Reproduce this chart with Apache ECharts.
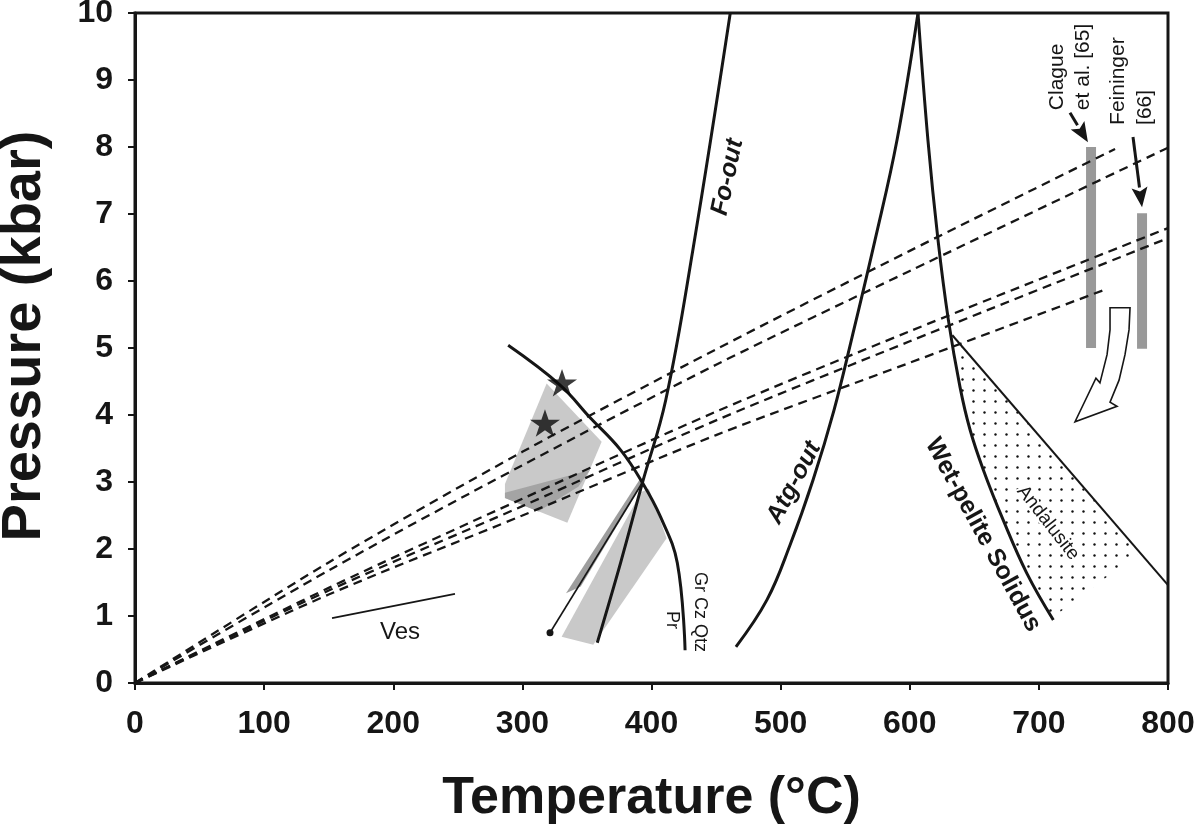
<!DOCTYPE html>
<html>
<head>
<meta charset="utf-8">
<script src="https://cdn.jsdelivr.net/npm/echarts@6/dist/echarts.min.js"></script>
<style>html,body{margin:0;padding:0;background:#fff}#chart{width:1200px;height:830px}</style>
</head>
<body>
<div id="chart"></div>
<script>
// ---------------- DATA (temperature °C, pressure kbar) ----------------
const xTickStep = 100, xMin = 0, xMax = 800;
const yTickStep = 1, yMin = 0, yMax = 10;

// dashed geotherms from origin
const geotherm1 = [[0,0],[150,1.8],[300,3.45],[450,4.98],[600,6.45],[759,7.97]];
const geotherm2 = [[0,0],[150,1.68],[300,3.25],[450,4.75],[600,6.15],[800,7.99]];
const geotherm3 = [[0,0],[150,1.42],[300,2.75],[450,4.05],[600,5.25],[800,6.79]];
const geotherm4 = [[0,0],[150,1.38],[300,2.64],[450,3.92],[600,5.1],[800,6.64]];
const geotherm5 = [[0,0],[150,1.32],[300,2.5],[450,3.7],[600,4.78],[751,5.87]];

// reaction curves
const foOut = [[358,0.6],[376,1.79],[393,2.99],[411,4.22],[432,6.46],[461,10]];
const atgOut = [[465.4,0.54],[489.4,1.24],[507.3,2.06],[525.1,3.03],[541.3,4.07],[555.3,5.16],[573.1,6.61],[590.1,8.1],[606.4,10]];
const wetSolidus = [[606.4,10],[614.1,8.1],[621.9,6.61],[629.9,5.42],[638.9,4.42],[646.7,3.78],[657.0,3.18],[672.4,2.43],[690.6,1.64],[711.2,0.94]];
const grCzQtz = [[289,5.04],[329,4.45],[352,3.97],[376,3.48],[393,2.99],[407,2.48],[420,1.79],[426,0.49]];
const andalusiteLine = [[633,5.19],[800,1.46]];
const andalusiteField = [[633,5.19],[777.5,1.94],[716.4,1.06],[711.2,0.94],[690.6,1.64],[672.4,2.43],[657.0,3.18],[646.7,3.78],[638.9,4.42],[629.9,5.42]];
const prLine = [[321.4,0.75],[393.2,3.0]];
const vesLine = [[152.6,0.97],[247.8,1.33]];

// grey P-T fields
const fieldUpper = [[318.8,4.47],[361.4,3.60],[334.8,2.39],[286.5,2.76],[286.5,2.97]];
const fieldUpperDark = [[286.5,2.84],[352.4,3.18],[343.3,2.93],[312.3,2.56],[286.5,2.76]];
const fieldLowerStrip = [[333.8,1.34],[345.2,1.44],[394.2,3.02],[390.6,3.03]];
const fieldLower = [[330.4,0.69],[354.9,0.57],[411.7,2.16],[398,2.9],[392,2.85]];

// stars (samples)
const stars = [[330.7,4.48],[317.5,3.88]];

// literature P ranges
const clagueRange = [[740.4,5.0],[740.4,8.0]];
const feiningerRange = [[779.9,4.99],[779.9,7.01]];
const arrowClague = [[724.1,8.51],[738.0,8.07]];
const arrowFeininger = [[772.9,8.15],[779.9,7.10]];

// open curved arrow outline
const openArrow = [[755.1,5.60],[755.1,5.27],[752.8,4.90],[747.3,4.48],[744.2,4.55],[728.0,3.90],[760.5,4.13],[755.1,4.19],[762.1,4.52],[766.7,4.90],[769.8,5.27],[770.6,5.60]];

// ---------------- CHART ----------------
const FONT = "Arial, 'Liberation Sans', Helvetica, sans-serif";
const INK = '#161616';

// annotation texts, anchors (data units) and styles
const annotations = [
  {text:'Fo-out', at:[459.0,7.55], rot:78, font:'italic bold 25px '+FONT},
  {text:'Atg-out', at:[510.4,2.99], rot:62, font:'italic bold 25px '+FONT},
  {text:'Wet-pelite Solidus', at:[656.7,2.21], rot:-61.4, font:'bold 25px '+FONT},
  {text:'Andalusite', at:[707.1,2.39], rot:-52, font:'19px '+FONT, halo:true},
  {text:'Gr Cz Qtz', at:[437.6,1.06], rot:-90, font:'18px '+FONT},
  {text:'Pr', at:[415.9,0.94], rot:-90, font:'18px '+FONT},
  {text:'Ves', at:[205.2,0.76], rot:0, font:'24px '+FONT},
  {text:'Clague', at:[714.0,8.55], rot:90, font:'21px '+FONT, align:'left'},
  {text:'et al. [65]', at:[734.2,8.55], rot:90, font:'21px '+FONT, align:'left'},
  {text:'Feininger', at:[761.3,8.33], rot:90, font:'21px '+FONT, align:'left'},
  {text:'[66]', at:[782.2,8.33], rot:90, font:'21px '+FONT, align:'left'}
];

function dotPattern(){
  const c = document.createElement('canvas');
  c.width = 11; c.height = 11;
  const g = c.getContext('2d');
  g.fillStyle = '#111';
  g.beginPath(); g.arc(5.5,5.5,1.2,0,Math.PI*2); g.fill();
  return c;
}

function polygonSeries(pts, style, z){
  return {
    type:'custom', coordinateSystem:'cartesian2d', data: pts, encode:{x:0,y:1}, z: z, silent:true, clip:false,
    renderItem: function(params, api){
      if (params.dataIndex !== 0) return;
      return {type:'polygon', shape:{points: pts.map(p => api.coord(p))}, style: style};
    }
  };
}

function lineSeries(pts, width, color, dash, z, smooth){
  return {
    type:'line', data: pts, showSymbol:false, symbol:'none', silent:true, z: z,
    smooth: smooth || 0, animation:false,
    lineStyle:{width: width, color: color, type: dash || 'solid', cap:'butt'}
  };
}

function arrowSeries(seg){
  return {
    type:'custom', coordinateSystem:'cartesian2d', data: seg, encode:{x:0,y:1}, z: 6, silent:true, clip:false,
    renderItem: function(params, api){
      if (params.dataIndex !== 0) return;
      const a = api.coord(seg[0]), b = api.coord(seg[1]);
      const dx = b[0]-a[0], dy = b[1]-a[1], L = Math.hypot(dx,dy);
      const ux = dx/L, uy = dy/L, hl = 20, hw = 8;
      const bx = b[0]-ux*hl, by = b[1]-uy*hl;
      return {type:'group', children:[
        {type:'line', shape:{x1:a[0],y1:a[1],x2:bx,y2:by}, style:{stroke:INK, lineWidth:3}},
        {type:'polygon', shape:{points:[[b[0],b[1]],[bx-uy*hw,by+ux*hw],[bx+ux*4,by+uy*4],[bx+uy*hw,by-ux*hw]]}, style:{fill:INK}}
      ]};
    }
  };
}

const chart = echarts.init(document.getElementById('chart'), null, {renderer:'canvas'});

const series = [
  polygonSeries(fieldUpper, {fill:'#c9c9c9'}, 1),
  polygonSeries(fieldUpperDark, {fill:'#a4a4a4'}, 1),
  polygonSeries(fieldLower, {fill:'#c9c9c9'}, 1),
  polygonSeries(fieldLowerStrip, {fill:'#9d9d9d'}, 1),
  polygonSeries(andalusiteField, {fill:{image: dotPattern(), repeat:'repeat'}}, 1),
  lineSeries(geotherm1, 2.3, INK, [9,6], 3, 0.3),
  lineSeries(geotherm2, 2.3, INK, [9,6], 3, 0.3),
  lineSeries(geotherm3, 2.3, INK, [9,6], 3, 0.3),
  lineSeries(geotherm4, 2.3, INK, [9,6], 3, 0.3),
  lineSeries(geotherm5, 2.3, INK, [9,6], 3, 0.3),
  lineSeries(foOut, 3, INK, 'solid', 4, 0.4),
  lineSeries(atgOut, 3, INK, 'solid', 4, 0.4),
  lineSeries(wetSolidus, 3, INK, 'solid', 4, 0.4),
  lineSeries(grCzQtz, 3, INK, 'solid', 4, 0.4),
  lineSeries(andalusiteLine, 2, INK, 'solid', 4, 0),
  lineSeries(vesLine, 1.8, INK, 'solid', 4, 0),
  {
    type:'line', silent:true, z:4, animation:false,
    data:[{value:prLine[0], symbol:'circle', symbolSize:7}, {value:prLine[1], symbol:'none'}],
    showSymbol:true, itemStyle:{color:INK}, lineStyle:{width:1.6, color:INK}
  },
  lineSeries(clagueRange, 10, '#999999', 'solid', 2, 0),
  lineSeries(feiningerRange, 10, '#999999', 'solid', 2, 0),
  arrowSeries(arrowClague),
  arrowSeries(arrowFeininger),
  polygonSeries(openArrow, {fill:'#ffffff', stroke:INK, lineWidth:1.6, lineJoin:'miter'}, 5),
  {
    type:'scatter', data: stars, z:7, silent:true,
    symbol:'path://M12,0 L14.9,8.6 L24,8.6 L16.6,14 L19.4,22.8 L12,17.4 L4.6,22.8 L7.4,14 L0,8.6 L9.1,8.6 Z',
    symbolSize:[30,29], symbolKeepAspect:true, itemStyle:{color:'#0a0a0a'}
  },
  {
    type:'custom', coordinateSystem:'cartesian2d', data: annotations.map(a => a.at), encode:{x:0,y:1},
    z:8, silent:true, clip:false,
    renderItem: function(params, api){
      const a = annotations[params.dataIndex];
      const p = api.coord(a.at);
      const st = {text:a.text, font:a.font, fill:INK, align:a.align || 'center', verticalAlign:'middle'};
      if (a.halo) { st.stroke = '#ffffff'; st.lineWidth = 4; }
      return {type:'text', x:p[0], y:p[1], rotation: a.rot*Math.PI/180, style: st};
    }
  }
];

chart.setOption({
  animation:false,
  backgroundColor:'#ffffff',
  grid:{left:135, right:32, top:13, bottom:147, outerBoundsMode:'none', containLabel:false,
        show:true, borderColor:INK, borderWidth:3, backgroundColor:'transparent'},
  xAxis:{
    type:'value', min:xMin, max:xMax, interval:xTickStep,
    name:'Temperature (°C)', nameLocation:'middle', nameGap:90,
    nameTextStyle:{fontSize:52, fontWeight:'bold', color:INK, fontFamily:FONT},
    axisLine:{show:true, onZero:false, lineStyle:{color:INK, width:3}},
    axisTick:{show:true, length:7, lineStyle:{color:INK, width:2}},
    axisLabel:{fontSize:32, fontWeight:'bold', color:INK, fontFamily:FONT, margin:25},
    splitLine:{show:false}
  },
  yAxis:{
    type:'value', min:yMin, max:yMax, interval:yTickStep,
    name:'Pressure (kbar)', nameLocation:'middle', nameGap:82,
    nameTextStyle:{fontSize:56, fontWeight:'bold', color:INK, fontFamily:FONT, padding:[0,0,0,24]},
    axisLine:{show:true, onZero:false, lineStyle:{color:INK, width:3}},
    axisTick:{show:true, length:7, lineStyle:{color:INK, width:2}},
    axisLabel:{fontSize:32, fontWeight:'bold', color:INK, fontFamily:FONT, margin:22},
    splitLine:{show:false}
  },
  series: series
});
</script>
</body>
</html>
